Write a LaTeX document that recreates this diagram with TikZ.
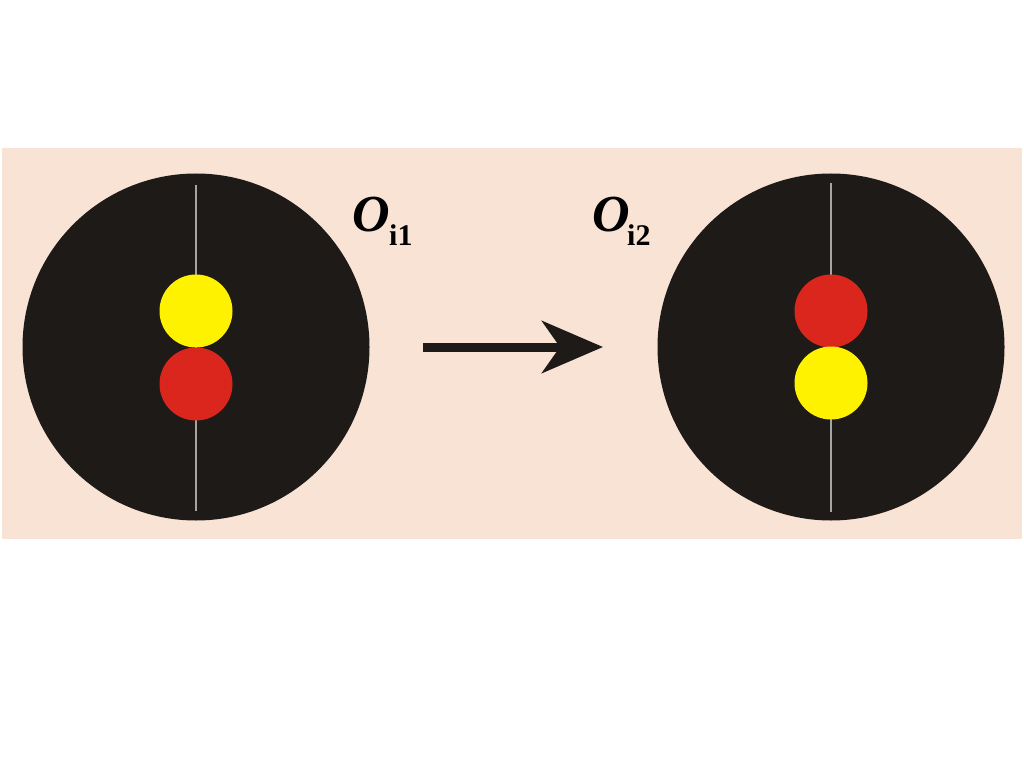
\documentclass[tikz,border=0pt]{standalone}
\usepackage{fontspec}
\setmainfont{Liberation Serif}
\usetikzlibrary{arrows.meta}
\definecolor{peach}{RGB}{249,227,213}
\definecolor{disk}{RGB}{30,26,23}
\definecolor{redb}{RGB}{218,38,28}
\definecolor{yelb}{RGB}{255,242,0}
\definecolor{axisg}{RGB}{165,165,165}
\begin{document}
\begin{tikzpicture}[x=1pt,y=-1pt,
  disknode/.style={circle,fill=disk,draw=none,inner sep=0pt,minimum size=347pt},
  ball/.style={circle,draw=none,inner sep=0pt,minimum size=73pt},
  axisline/.style={draw=axisg,line width=1.2pt},
  bigO/.style={anchor=base west,inner sep=0pt,font=\fontsize{52}{52}\selectfont\bfseries\itshape},
  subs/.style={anchor=base west,inner sep=0pt,font=\fontsize{30}{30}\selectfont\bfseries}]
\useasboundingbox (0,0) rectangle (1024,767);
\fill[white] (0,0) rectangle (1024,767);
\fill[peach] (2,148) rectangle (1022,539);
% left disk
\node[disknode] (L) at (196,347) {};
\coordinate (Lt) at (196,185);
\coordinate (Lb) at (196,511);
\draw[axisline] (Lt) -- (Lb);
\node[ball,fill=yelb] (Ly) at (196,311) {};
\node[ball,fill=redb] (Lr) at (196,384) {};
% right disk
\node[disknode] (R) at (831,347) {};
\coordinate (Rt) at (831,183);
\coordinate (Rb) at (831,512);
\draw[axisline] (Rt) -- (Rb);
\node[ball,fill=redb] (Rr) at (831,311) {};
\node[ball,fill=yelb] (Ry) at (831,383) {};
% labels
\node[bigO] (O1) at (352,232) {O};
\node[subs] (s1) at (389,245) {i1};
\node[bigO] (O2) at (592,232) {O};
\node[subs] (s2) at (627,245) {i2};
% arrow
\coordinate (as) at (423,347);
\coordinate (ae) at (603,347);
\draw[disk,line width=9pt,-{Stealth[length=61pt,width=52pt,inset=18pt]}] (as) -- (ae);
\end{tikzpicture}
\end{document}
